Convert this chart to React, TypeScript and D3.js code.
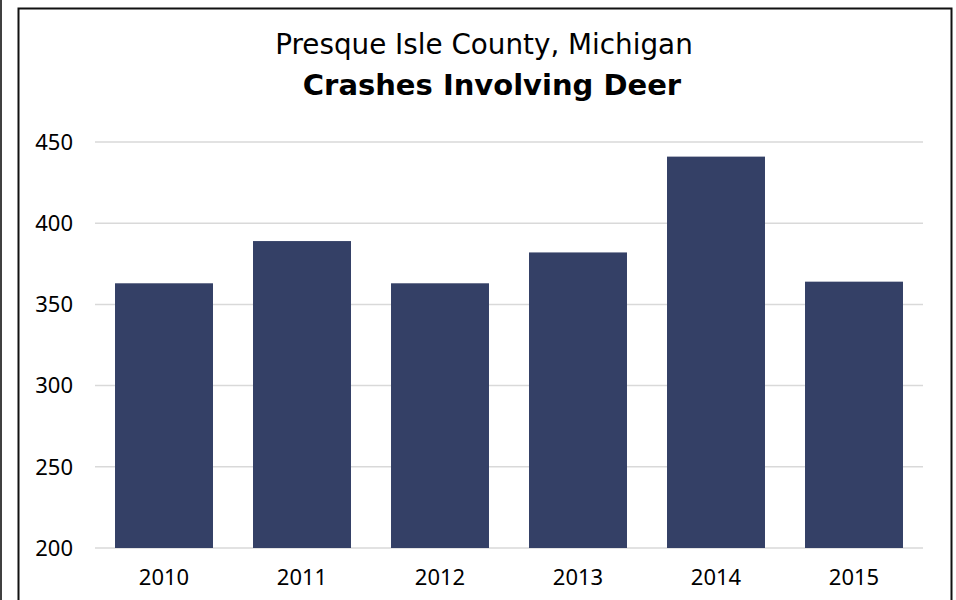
import React from "react";
import * as d3 from "d3";

const years = ["2010", "2011", "2012", "2013", "2014", "2015"];
const crashes = [363, 389, 363, 382, 441, 364];
const yTicks = [200, 250, 300, 350, 400, 450];
const subtitle = "Presque Isle County, Michigan";
const title = "Crashes Involving Deer";

const W = 956;
const H = 600;
const FONT = "'Noto Sans', sans-serif";
const TFONT = "'DejaVu Sans', sans-serif";

export default function App() {
  const x = d3.scaleBand<string>().domain(years).range([95, 923]).paddingInner(0.29).paddingOuter(0.145);
  const y = d3.scaleLinear().domain([200, 450]).range([548, 142]);

  return (
    <div style={{ position: "fixed", left: 0, top: 0 }}>
      <svg width={W} height={H} style={{ display: "block", background: "#fff" }}>
        <line x1={1} x2={1} y1={0} y2={H} stroke="#000" strokeWidth={1.5} />
        <rect x={18.5} y={8.5} width={933} height={H + 10} fill="#fff" stroke="#111" strokeWidth={2} />
        <text x={484} y={54} textAnchor="middle" fontFamily={TFONT} fontSize={27.8} fill="#000">{subtitle}</text>
        <text x={492} y={95} textAnchor="middle" fontFamily={TFONT} fontSize={29} fontWeight="bold" fill="#000">{title}</text>
        {yTicks.map((t) => (
          <g key={t}>
            <line x1={95} x2={923} y1={y(t)} y2={y(t)} stroke="#d9d9d9" strokeWidth={1.5} />
            <text x={73} y={y(t)} dy="0.35em" textAnchor="end" fontFamily={FONT} fontSize={22} fill="#000">{t}</text>
          </g>
        ))}
        {years.map((yr, i) => (
          <rect key={yr} x={x(yr)} y={y(crashes[i])} width={x.bandwidth()} height={y(200) - y(crashes[i])} fill="#344066" />
        ))}
        {years.map((yr) => (
          <text key={yr} x={(x(yr) as number) + x.bandwidth() / 2} y={585} textAnchor="middle" fontFamily={FONT} fontSize={22} fill="#000">{yr}</text>
        ))}
      </svg>
    </div>
  );
}
